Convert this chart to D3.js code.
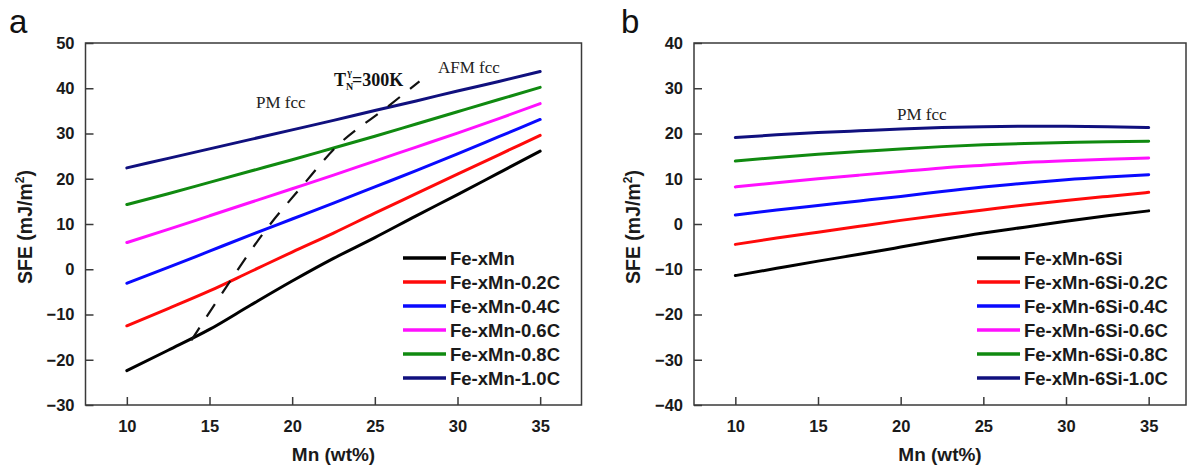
<!DOCTYPE html>
<html>
<head>
<meta charset="utf-8">
<script src="https://cdn.jsdelivr.net/npm/d3@7"></script>
<style>
  html, body { margin: 0; padding: 0; background: #fff; }
  svg { display: block; }
</style>
</head>
<body>
<svg id="chart" width="1187" height="466"></svg>
<script>
// ---------- data ----------
const mnValues = [10, 12.5, 15, 17.5, 20, 22.5, 25, 27.5, 30, 32.5, 35];
const xTicks = [10, 15, 20, 25, 30, 35];
const yTicksA = [-30, -20, -10, 0, 10, 20, 30, 40, 50];
const yTicksB = [-40, -30, -20, -10, 0, 10, 20, 30, 40];

const seriesNamesA = ["Fe-xMn", "Fe-xMn-0.2C", "Fe-xMn-0.4C", "Fe-xMn-0.6C", "Fe-xMn-0.8C", "Fe-xMn-1.0C"];
const seriesNamesB = ["Fe-xMn-6Si", "Fe-xMn-6Si-0.2C", "Fe-xMn-6Si-0.4C", "Fe-xMn-6Si-0.6C", "Fe-xMn-6Si-0.8C", "Fe-xMn-6Si-1.0C"];
const seriesColors = ["#000000", "#ff0a0a", "#0a0aff", "#ff10ff", "#108a10", "#10107e"];

const sfeA_0C  = [-22.4, -17.9, -13.3, -7.9, -2.6, 2.4, 7.0, 11.8, 16.5, 21.3, 26.1];
const sfeA_02C = [-12.5, -8.7, -4.8, -0.5, 3.8, 8.0, 12.4, 16.7, 21.0, 25.3, 29.6];
const sfeA_04C = [-3.1, 0.4, 4.0, 7.6, 11.1, 14.6, 18.2, 21.8, 25.5, 29.3, 33.1];
const sfeA_06C = [5.9, 8.8, 11.8, 14.8, 17.8, 20.8, 23.9, 27.0, 30.1, 33.3, 36.6];
const sfeA_08C = [14.3, 16.7, 19.2, 21.7, 24.2, 26.8, 29.4, 32.1, 34.8, 37.5, 40.2];
const sfeA_10C = [22.4, 24.5, 26.6, 28.7, 30.8, 32.9, 35.1, 37.2, 39.4, 41.5, 43.7];

const sfeB_0C  = [-11.4, -9.8, -8.2, -6.7, -5.1, -3.5, -2.0, -0.7, 0.6, 1.8, 2.9];
const sfeB_02C = [-4.5, -3.1, -1.8, -0.5, 0.8, 2.0, 3.1, 4.2, 5.2, 6.1, 7.0];
const sfeB_04C = [2.0, 3.1, 4.1, 5.1, 6.1, 7.2, 8.2, 9.0, 9.8, 10.4, 10.9];
const sfeB_06C = [8.2, 9.1, 10.0, 10.8, 11.6, 12.4, 13.0, 13.6, 14.0, 14.3, 14.6];
const sfeB_08C = [13.9, 14.7, 15.4, 16.0, 16.6, 17.1, 17.5, 17.8, 18.0, 18.2, 18.3];
const sfeB_10C = [19.1, 19.7, 20.2, 20.6, 21.0, 21.3, 21.5, 21.6, 21.6, 21.5, 21.3];

// T_N = 300 K boundary (dashed) in panel a
const neelMn  = [13.9, 16.0, 18.2, 20.7, 22.6, 25.8, 27.7];
const neelSfe = [-15.7, -4.0, 7.7, 18.8, 26.8, 36.0, 41.5];

const seriesA = [sfeA_0C, sfeA_02C, sfeA_04C, sfeA_06C, sfeA_08C, sfeA_10C];
const seriesB = [sfeB_0C, sfeB_02C, sfeB_04C, sfeB_06C, sfeB_08C, sfeB_10C];

// ---------- drawing ----------
const svg = d3.select("#chart");
const sans = "'Liberation Sans', Arial, sans-serif";
const serif = "'Liberation Serif', 'Times New Roman', serif";

function panel(opts) {
  const { left, right, top, bottom, clipRight, yDomain, yTicks, series, names, letter, letterX, legendLineX, legendTextX, curve } = opts;
  const x = d3.scaleLinear().domain([7.5, 37.5]).range([left, right]);
  const y = d3.scaleLinear().domain(yDomain).range([bottom, top]);
  const g = svg.append("g");

  // frame
  g.append("rect")
    .attr("x", left).attr("y", top)
    .attr("width", Math.min(right, clipRight) - left)
    .attr("height", bottom - top)
    .attr("fill", "none").attr("stroke", "#3a3a3a").attr("stroke-width", 1.5);

  // axes
  const xa = g.append("g").attr("transform", `translate(0,${bottom})`)
    .call(d3.axisBottom(x).tickValues(xTicks).tickSize(-8).tickPadding(15).tickFormat(d3.format("d")));
  const ya = g.append("g").attr("transform", `translate(${left},0)`)
    .call(d3.axisLeft(y).tickValues(yTicks).tickSize(-8).tickPadding(11).tickFormat(d3.format("d")));
  [xa, ya].forEach(a => {
    a.select(".domain").remove();
    a.selectAll(".tick line").attr("stroke", "#3a3a3a").attr("stroke-width", 1.5);
    a.selectAll(".tick text").attr("font-family", sans).attr("font-weight", "bold")
      .attr("font-size", 16.5).attr("fill", "#1a1a1a");
  });

  // lines
  const line = d3.line().x((d, i) => x(mnValues[i])).y(d => y(d)).curve(curve);
  series.forEach((s, i) => {
    g.append("path").datum(s).attr("d", line)
      .attr("fill", "none").attr("stroke", seriesColors[i]).attr("stroke-width", 3)
      .attr("stroke-linecap", "round");
  });

  // axis titles
  g.append("text").attr("x", (left + Math.min(right, clipRight)) / 2).attr("y", 461)
    .attr("text-anchor", "middle").attr("font-family", sans).attr("font-weight", "bold")
    .attr("font-size", 19).attr("fill", "#1a1a1a").text("Mn (wt%)");
  const yt = g.append("text")
    .attr("transform", `translate(${left - 54},${(top + bottom) / 2 + 3}) rotate(-90)`)
    .attr("text-anchor", "middle").attr("font-family", sans).attr("font-weight", "bold")
    .attr("font-size", 19.5).attr("fill", "#1a1a1a");
  yt.append("tspan").text("SFE (mJ/m");
  yt.append("tspan").attr("font-size", 12).attr("dy", -8).text("2");
  yt.append("tspan").attr("dy", 8).text(")");

  // panel letter
  g.append("text").attr("x", letterX).attr("y", 33)
    .attr("font-family", sans).attr("font-size", 33).attr("fill", "#111").text(letter);

  // legend
  const ly0 = 258, ldy = 24;
  names.forEach((n, i) => {
    const yy = ly0 + i * ldy;
    g.append("line").attr("x1", legendLineX[0]).attr("x2", legendLineX[1])
      .attr("y1", yy).attr("y2", yy)
      .attr("stroke", seriesColors[i]).attr("stroke-width", 3.5);
    g.append("text").attr("x", legendTextX).attr("y", yy).attr("dy", "0.36em")
      .attr("font-family", sans).attr("font-weight", "bold").attr("font-size", 18.5)
      .attr("fill", "#1a1a1a").text(n);
  });

  return { x, y, g };
}

const A = panel({
  left: 85.5, right: 581.5, top: 43, bottom: 405, clipRight: 9999,
  yDomain: [-30, 50], yTicks: yTicksA, series: seriesA, names: seriesNamesA,
  letter: "a", letterX: 9, legendLineX: [403, 446], legendTextX: 450,
  curve: d3.curveMonotoneX
});
const B = panel({
  left: 694, right: 1190, top: 43, bottom: 405, clipRight: 1186,
  yDomain: [-40, 40], yTicks: yTicksB, series: seriesB, names: seriesNamesB,
  letter: "b", letterX: 621, legendLineX: [977, 1020], legendTextX: 1024,
  curve: d3.curveNatural
});

// dashed Neel boundary
const neelLine = d3.line().x((d, i) => A.x(neelMn[i])).y(d => A.y(d)).curve(d3.curveMonotoneX);
A.g.append("path").datum(neelSfe).attr("d", neelLine)
  .attr("fill", "none").attr("stroke", "#111").attr("stroke-width", 2.2)
  .attr("stroke-dasharray", "15,13");

// annotations
A.g.append("text").attr("x", 256).attr("y", 108)
  .attr("font-family", serif).attr("font-size", 17).attr("fill", "#222").text("PM fcc");
A.g.append("text").attr("x", 438).attr("y", 73)
  .attr("font-family", serif).attr("font-size", 17).attr("fill", "#222").text("AFM fcc");
const tn = A.g.append("text").attr("x", 334).attr("y", 86)
  .attr("font-family", serif).attr("font-weight", "bold").attr("font-size", 18).attr("fill", "#111");
tn.append("tspan").text("T");
tn.append("tspan").attr("font-size", 10).attr("dy", 4).text("N");
tn.append("tspan").attr("font-size", 10).attr("dx", -6).attr("dy", -14).text("γ");
tn.append("tspan").attr("dy", 10).text("=300K");

B.g.append("text").attr("x", 897).attr("y", 119.5)
  .attr("font-family", serif).attr("font-size", 17).attr("fill", "#222").text("PM fcc");
</script>
</body>
</html>
